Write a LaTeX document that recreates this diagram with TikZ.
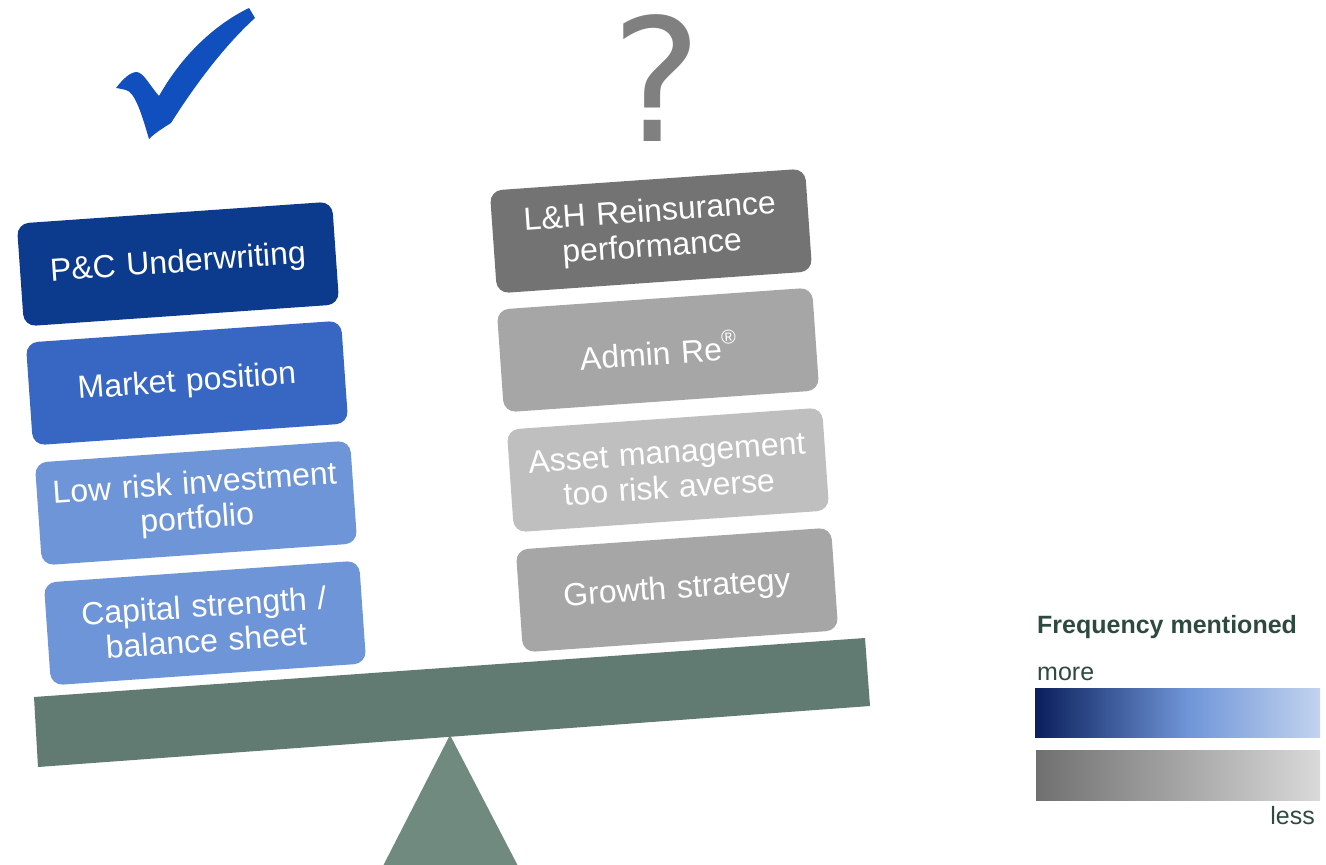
\documentclass[tikz,border=0pt]{standalone}
\usepackage{fontspec}
\setmainfont{Liberation Sans}
\newfontfamily\qfont{DejaVu Sans}
\definecolor{pcblue}{HTML}{0C3A8C}
\definecolor{mpblue}{HTML}{3867C3}
\definecolor{ltblue}{HTML}{6E95D8}
\definecolor{dkgray}{HTML}{737373}
\definecolor{mdgray}{HTML}{A6A6A6}
\definecolor{ltgray}{HTML}{BFBFBF}
\definecolor{beamcol}{HTML}{617B73}
\definecolor{fulcol}{HTML}{718A80}
\definecolor{checkcol}{HTML}{114FBE}
\definecolor{qcol}{HTML}{808080}
\definecolor{legtext}{HTML}{2E4A3F}
\definecolor{bA}{HTML}{0A1F5C}
\definecolor{bB}{HTML}{7096D8}
\definecolor{bC}{HTML}{C3D3EF}
\definecolor{gA}{HTML}{707070}
\definecolor{gB}{HTML}{D9D9D9}
\pgfdeclarehorizontalshading{blueleg}{100bp}{color(0bp)=(bA); color(25bp)=(bA); color(52bp)=(bB); color(75bp)=(bC); color(100bp)=(bC)}
\pgfdeclarehorizontalshading{grayleg}{100bp}{color(0bp)=(gA); color(25bp)=(gA); color(75bp)=(gB); color(100bp)=(gB)}
\tikzset{
  tile/.style={rounded corners=12pt, minimum width=316pt, minimum height=103pt,
    inner sep=0pt, text width=305pt, align=center, text=white, rotate=4,
    font=\fontsize{32}{35}\selectfont},
  legtxt/.style={text=legtext, inner sep=0pt, font=\fontsize{25}{28}\selectfont}
}
\begin{document}
\begin{tikzpicture}[x=1pt,y=-1pt]
\useasboundingbox (0,0) rectangle (1326,865);
% fulcrum and beam
\fill[fulcol] (450,735) -- (518,866) -- (383,866) -- cycle;
\fill[beamcol] (34,697) -- (865,638) -- (870,706) -- (38,767) -- cycle;
% left tiles
\node[tile, fill=pcblue] (pc) at (178,264) {P\&C Underwriting};
\node[tile, fill=mpblue] (mp) at (187,383) {Market position};
\node[tile, fill=ltblue] (lr) at (196,503) {Low risk investment\\portfolio};
\node[tile, fill=ltblue] (cs) at (205,623) {Capital strength /\\balance sheet};
% right tiles
\node[tile, fill=dkgray] (lh) at (651,231) {L\&H Reinsurance\\performance};
\node[tile, fill=mdgray] (ar) at (658,350) {Admin Re\raisebox{0.5em}{\fontsize{20}{20}\selectfont ®}};
\node[tile, fill=ltgray] (am) at (668,470) {Asset management\\too risk averse};
\node[tile, fill=mdgray] (gs) at (677,590) {Growth strategy};
% check mark
\fill[checkcol] (116,88) .. controls (123,79) and (130,72) .. (137,72)
  .. controls (144,73) and (150,86) .. (159,96)
  .. controls (185,50) and (220,22) .. (249,8) -- (255,18)
  .. controls (225,45) and (195,85) .. (171,123)
  .. controls (163,128) and (155,133) .. (149,139)
  .. controls (142,115) and (135,92) .. (126,90)
  .. controls (121,89) and (118,88) .. (116,88) -- cycle;
% question mark
\node[text=qcol, inner sep=0pt, font=\qfont\fontsize{171}{171}\selectfont] (q) at (657,78) {?};
% legend
\node[legtxt, anchor=base west, font=\bfseries\fontsize{25}{28}\selectfont] (lt) at (1037,633) {Frequency mentioned};
\node[legtxt, anchor=base west] (more) at (1037,680) {more};
\shade[shading=blueleg] (1035,688) rectangle (1320,737);
\shade[shading=grayleg] (1036,750) rectangle (1320,800);
\node[legtxt, anchor=base east] (less) at (1315,824) {less};
\end{tikzpicture}
\end{document}
